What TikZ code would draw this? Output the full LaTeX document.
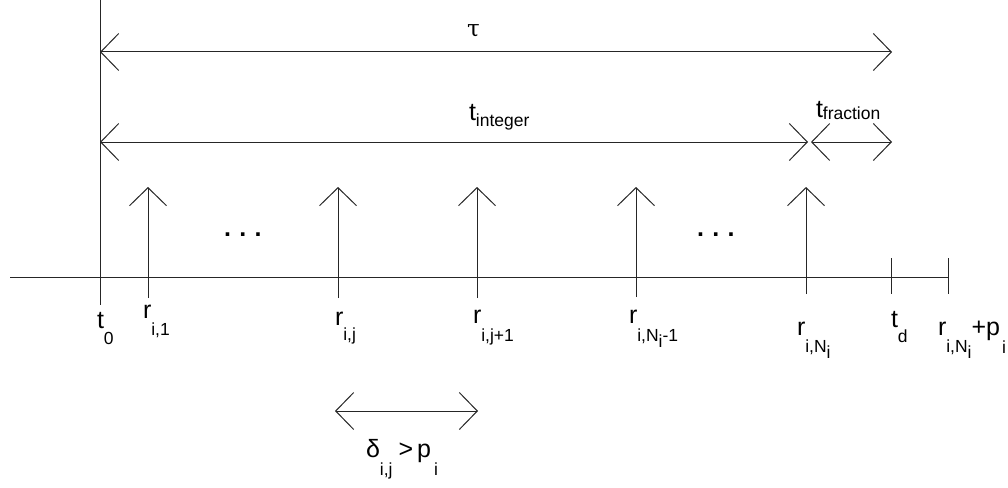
\documentclass[tikz,border=0pt]{standalone}
\usepackage{fontspec}
\setmainfont{Liberation Sans}
\newfontfamily\serifgr{DejaVu Serif}
\usetikzlibrary{arrows.meta}
\newcommand\mainsz{\fontsize{25}{28}\selectfont}
\newcommand\subsz{\fontsize{17.5}{20}\selectfont}
\newcommand\lsub[2]{\raisebox{-#1}{\subsz #2}}
\newcommand\ssub[1]{\raisebox{-6pt}{\subsz #1}}
\tikzset{
  ln/.style={line width=1pt, draw=black!85},
  vtip/.tip={Straight Barb[length=18pt,width=37pt,line width=1pt]},
  dbl/.style={ln, {vtip}-{vtip}},
  up/.style={ln, -{vtip}},
  lbl/.style={inner sep=0pt, outer sep=0pt, anchor=base west, font=\mainsz},
}
\begin{document}
\begin{tikzpicture}[x=1pt,y=-1pt]
\useasboundingbox (0,0) rectangle (1008,487);
% axis and t0 line
\coordinate (axL) at (10,277);
\coordinate (axR) at (949,277);
\draw[ln] (axL) -- (axR);
\coordinate (t0top) at (100,0);
\coordinate (t0bot) at (100,305);
\draw[ln] (t0top) -- (t0bot);
% tau arrow
\coordinate (tauL) at (100,52);
\coordinate (tauR) at (892,52);
\draw[dbl] (tauL) -- (tauR);
\node[inner sep=0pt, anchor=base west, font=\fontsize{23}{26}\selectfont\serifgr] (tau) at (467,37) {τ};
% t integer / fraction
\coordinate (tiL) at (100,142);
\coordinate (tiR) at (808,142);
\coordinate (tfL) at (811,142);
\coordinate (tfR) at (892,142);
\draw[dbl] (tiL) -- (tiR);
\draw[dbl] (tfL) -- (tfR);
\node[lbl] (tint) at (469,120) {t\ssub{integer}};
\node[lbl] (tfrac) at (816,117) {t\raisebox{-2pt}{\subsz fraction}};
% up arrows
\foreach \n/\x/\b in {a/148/298, b/338/298, c/477/298, d/636/297, e/806/294}{
  \coordinate (\n bot) at (\x,\b);
  \coordinate (\n top) at (\x,187);
  \draw[up] (\n bot) -- (\n top);
}
% ticks
\coordinate (tdtop) at (891,258);
\coordinate (tdbot) at (891,294);
\draw[ln] (tdtop) -- (tdbot);
\coordinate (rptop) at (948,258);
\coordinate (rpbot) at (948,294);
\draw[ln] (rptop) -- (rpbot);
% dots
\node[lbl, font=\mainsz\bfseries] (dots1) at (224,236) {.\,\,.\,\,.};
\node[lbl, font=\mainsz\bfseries] (dots2) at (697,236) {.\,\,.\,\,.};
% labels
\node[lbl] (lt0) at (97,328) {t\lsub{16pt}{0}};
\node[lbl] (lr1) at (143,318) {r\lsub{17pt}{i,1}};
\node[lbl] (lrj) at (335,325) {r\lsub{15pt}{i,j}};
\node[lbl] (lrj1) at (473,323) {r\lsub{18pt}{i,j+1}};
\node[lbl] (lrN1) at (629,323) {r\lsub{18pt}{i,N\raisebox{-6pt}{i}-1}};
\node[lbl] (lrN) at (797,335) {r\lsub{17pt}{i,N\raisebox{-6pt}{i}}};
\node[lbl] (ltd) at (891,327) {t\lsub{15pt}{d}};
\node[lbl] (lrp) at (938,335) {r\lsub{17pt}{i,N\raisebox{-6pt}{i}}+p\hspace{2pt}\lsub{18pt}{i}};
% delta arrow
\coordinate (dL) at (335,411);
\coordinate (dR) at (478,411);
\draw[dbl] (dL) -- (dR);
\node[lbl] (ldelta) at (366,457) {δ\lsub{18pt}{i,j}\hspace{6pt}>\hspace{4pt}p\hspace{3pt}\lsub{18pt}{i}};
\end{tikzpicture}
\end{document}
